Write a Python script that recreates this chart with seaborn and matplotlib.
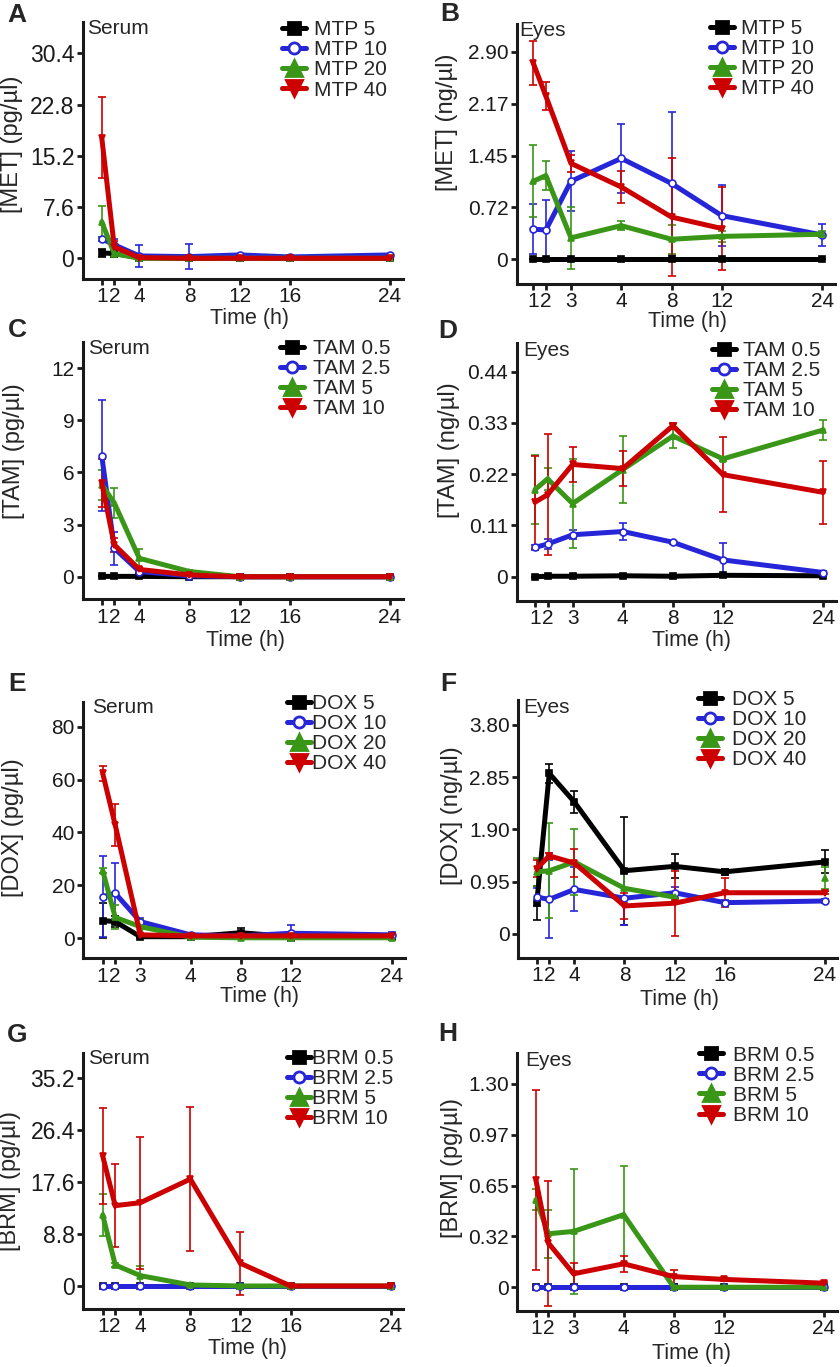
"""Drug levels in serum and eyes over 24 h (panels A-H)."""
import numpy as np
import matplotlib
matplotlib.use("Agg")
import matplotlib.pyplot as plt
from matplotlib.lines import Line2D
import seaborn as sns

nan = np.nan

# sampling slots on the x axis; two label sets are used
POS = [1, 2, 4, 8, 12, 16, 24]
HOURS_A = ["1", "2", "4", "8", "12", "16", "24"]
HOURS_B = ["1", "2", "3", "4", "8", "12", "24"]

# ---- MTP / MET
MTP_DOSES = ["MTP 5", "MTP 10", "MTP 20", "MTP 40"]
MET_SERUM = [
    [0.8, 0.7, 0.1, 0.0, 0.1, 0.0, 0.0],
    [2.9, 2.0, 0.35, 0.25, 0.5, 0.2, 0.5],
    [5.4, 0.7, 0.0, 0.0, 0.0, 0.0, 0.0],
    [17.9, 1.7, 0.1, 0.0, 0.0, 0.0, 0.0],
]
MET_SERUM_ERR = [
    [0.6, 0.3, 0.1, 0.1, 0.2, 0.1, 0.1],
    [0.3, 0.9, 1.6, 1.9, 0.2, 0.2, 0.2],
    [2.4, 0.5, 0.1, 0.1, 0.1, 0.1, 0.1],
    [6.0, 0.8, 0.2, 0.1, 0.1, 0.1, 0.1],
]
MET_EYES = [
    [0.0, 0.0, 0.0, 0.0, 0.0, 0.0, 0.0],
    [0.42, 0.41, 1.09, 1.41, 1.06, 0.61, 0.34],
    [1.09, 1.17, 0.30, 0.47, 0.28, 0.32, 0.35],
    [2.74, 2.28, 1.34, 1.01, 0.59, 0.43, nan],
]
MET_EYES_ERR = [
    [0, 0, 0, 0, 0, 0, 0],
    [0.35, 0.42, 0.42, 0.48, 1.0, 0.43, 0.16],
    [0.5, 0.2, 0.43, 0.06, 0.2, 0.08, 0.04],
    [0.31, 0.2, 0.12, 0.22, 0.83, 0.58, nan],
]

# ---- TAM
TAM_DOSES = ["TAM 0.5", "TAM 2.5", "TAM 5", "TAM 10"]
TAM_SERUM = [
    [0.02, 0.02, 0.02, 0.0, 0.0, 0.0, 0.0],
    [6.97, 1.64, 0.3, 0.05, 0.0, 0.0, 0.0],
    [5.3, 4.25, 1.06, 0.3, 0.0, 0.0, 0.0],
    [5.4, 1.84, 0.42, 0.1, 0.0, 0.0, 0.0],
]
TAM_SERUM_ERR = [
    [0, 0, 0, 0, 0, 0, 0],
    [3.2, 0.95, 0.1, 0.05, 0.05, 0.05, 0.05],
    [0.87, 0.87, 0.55, 0.1, 0.05, 0.05, 0.05],
    [1.4, 0.4, 0.15, 0.05, 0.1, 0.1, 0.1],
]
TAM_EYES = [
    [0.0, 0.001, 0.001, 0.002, 0.001, 0.003, 0.002],
    [0.063, 0.07, 0.09, 0.097, 0.074, 0.036, 0.009],
    [0.187, 0.21, 0.157, 0.23, 0.302, 0.253, 0.315],
    [0.160, 0.176, 0.241, 0.232, 0.324, 0.219, 0.181],
]
TAM_EYES_ERR = [
    [0, 0, 0, 0, 0, 0, 0],
    [0.006, 0.01, 0.01, 0.018, 0.003, 0.036, 0.004],
    [0.074, 0.024, 0.095, 0.071, 0.026, 0.005, 0.022],
    [0.10, 0.13, 0.038, 0.038, 0.007, 0.08, 0.068],
]

# ---- DOX
DOX_DOSES = ["DOX 5", "DOX 10", "DOX 20", "DOX 40"]
DOX_SERUM = [
    [6.7, 6.3, 0.6, 0.6, 2.1, 0.6, 0.6],
    [15.7, 17.0, 6.3, 1.3, 0.9, 1.9, 1.3],
    [25.6, 7.9, 4.4, 0.4, 0.2, 0.2, 0.2],
    [62.4, 42.8, 1.3, 0.9, 0.9, 0.9, 0.9],
]
DOX_SERUM_ERR = [
    [6.6, 2.0, 0.5, 0.5, 1.7, 0.5, 0.5],
    [15.3, 11.3, 1.5, 0.7, 0.5, 3.1, 1.0],
    [1.0, 4.5, 3.0, 0.3, 0.3, 0.3, 0.3],
    [2.8, 8.0, 0.8, 0.3, 0.3, 0.3, 0.3],
]
DOX_EYES = [
    [0.56, 2.92, 2.40, 1.15, 1.23, 1.13, 1.31],
    [0.67, 0.63, 0.81, 0.65, 0.75, 0.57, 0.60],
    [1.13, 1.15, 1.31, 0.83, 0.67, nan, 1.01],
    [1.19, 1.42, 1.29, 0.51, 0.56, 0.75, 0.75],
]
DOX_EYES_ERR = [
    [0.31, 0.17, 0.2, 0.98, 0.22, 0.05, 0.21],
    [0.16, 0.71, 0.4, 0.49, 0.1, 0.05, 0.03],
    [0.25, 0.86, 0.6, 0.27, 0.05, nan, 0.2],
    [0.15, 0.05, 0.25, 0.23, 0.59, 0.26, 0.03],
]

# ---- BRM
BRM_DOSES = ["BRM 0.5", "BRM 2.5", "BRM 5", "BRM 10"]
BRM_SERUM = [
    [0.0, 0.0, 0.0, 0.0, 0.0, 0.0, 0.0],
    [0.0, 0.0, 0.0, 0.0, 0.0, 0.0, 0.0],
    [12.0, 3.56, 1.75, 0.17, 0.0, 0.0, 0.0],
    [22.0, 13.6, 14.1, 18.1, 3.84, 0.0, 0.0],
]
BRM_SERUM_ERR = [
    [0, 0, 0, 0, 0, 0, 0],
    [0, 0, 0, 0, 0, 0, 0],
    [3.5, 0.4, 1.6, 0.2, 0.1, 0.1, 0.1],
    [8.2, 7.0, 11.2, 12.2, 5.3, 0.1, 0.1],
]
BRM_EYES = [
    [0.0, 0.0, 0.0, 0.0, 0.0, 0.0, 0.0],
    [0.0, 0.0, 0.0, 0.0, 0.0, 0.0, 0.0],
    [0.56, 0.342, 0.357, 0.464, 0.0, 0.0, 0.0],
    [0.684, 0.282, 0.086, 0.15, 0.068, 0.05, 0.026],
]
BRM_EYES_ERR = [
    [0, 0, 0, 0, 0, 0, 0],
    [0, 0, 0, 0, 0, 0, 0],
    [0.065, 0.155, 0.4, 0.31, 0.005, 0.005, 0.005],
    [0.577, 0.4, 0.07, 0.05, 0.045, 0.01, 0.01],
]

# y ticks per panel
YT_A = [0, 7.6, 15.2, 22.8, 30.4]
YL_A = ["0", "7.6", "15.2", "22.8", "30.4"]
YT_B = [0, 0.725, 1.45, 2.175, 2.9]
YL_B = ["0", "0.72", "1.45", "2.17", "2.90"]
YT_C = [0, 3, 6, 9, 12]
YL_C = ["0", "3", "6", "9", "12"]
YT_D = [0, 0.11, 0.22, 0.33, 0.44]
YL_D = ["0", "0.11", "0.22", "0.33", "0.44"]
YT_E = [0, 20, 40, 60, 80]
YL_E = ["0", "20", "40", "60", "80"]
YT_F = [0, 0.95, 1.9, 2.85, 3.8]
YL_F = ["0", "0.95", "1.90", "2.85", "3.80"]
YT_G = [0, 8.8, 17.6, 26.4, 35.2]
YL_G = ["0", "8.8", "17.6", "26.4", "35.2"]
YT_H = [0, 0.325, 0.65, 0.975, 1.3]
YL_H = ["0", "0.32", "0.65", "0.97", "1.30"]

PANELS = [
    ("A", "Serum", "[MET] (pg/µl)", MTP_DOSES, MET_SERUM, MET_SERUM_ERR, HOURS_A, YT_A, YL_A),
    ("B", "Eyes", "[MET] (ng/µl)", MTP_DOSES, MET_EYES, MET_EYES_ERR, HOURS_B, YT_B, YL_B),
    ("C", "Serum", "[TAM] (pg/µl)", TAM_DOSES, TAM_SERUM, TAM_SERUM_ERR, HOURS_A, YT_C, YL_C),
    ("D", "Eyes", "[TAM] (ng/µl)", TAM_DOSES, TAM_EYES, TAM_EYES_ERR, HOURS_B, YT_D, YL_D),
    ("E", "Serum", "[DOX] (pg/µl)", DOX_DOSES, DOX_SERUM, DOX_SERUM_ERR, HOURS_B, YT_E, YL_E),
    ("F", "Eyes", "[DOX] (ng/µl)", DOX_DOSES, DOX_EYES, DOX_EYES_ERR, HOURS_A, YT_F, YL_F),
    ("G", "Serum", "[BRM] (pg/µl)", BRM_DOSES, BRM_SERUM, BRM_SERUM_ERR, HOURS_A, YT_G, YL_G),
    ("H", "Eyes", "[BRM] (pg/µl)", BRM_DOSES, BRM_EYES, BRM_EYES_ERR, HOURS_B, YT_H, YL_H),
]

# layout in pixels: axes rect (L, T, R, B), xlim, ylim, letter xy, tissue xy,
# ylabel xy, xlabel xy, legend (key left, top, text gap), y tick font size
LAYOUT = {
    "A": ((82.7, 21.7, 403, 279), (-0.52, 25.04), (-3.07, 35.09), (17, 15), (87, 19), (12.5, 144), (249, 308), (282, 20.4, 8), 16.5),
    "B": ((516.7, 24, 835, 284), (-0.32, 25.01), (-0.345, 3.287), (450, 14), (519, 21), (447.5, 122), (688, 311), (710, 19.1, 7), 15),
    "C": ((82.7, 341.7, 403, 599.3), (-0.52, 25.04), (-1.30, 13.53), (17, 330), (88, 339), (14, 451), (245, 630), (280, 339.1, 9), 15),
    "D": ((516.7, 343.3, 836, 600.7), (-0.46, 25.01), (-0.0515, 0.501), (448, 331), (523, 341), (449, 450), (692, 630), (711.7, 341.1, 7), 15),
    "E": ((83.3, 701.7, 405, 958.3), (-0.54, 25.06), (-7.56, 89.4), (17, 684), (92, 698), (13, 828), (259, 986), (287, 694.1, 1), 15),
    "F": ((518.3, 700, 836.7, 957.7), (-0.47, 24.93), (-0.431, 4.254), (448, 684), (523, 698), (452, 816), (680, 989), (698, 690.1, 10), 15),
    "G": ((83.3, 1052.7, 403, 1309), (-0.55, 24.98), (-3.9, 39.5), (17, 1035), (88, 1049), (10, 1181), (247, 1338), (287, 1049.1, 1), 16.5),
    "H": ((517.3, 1053.3, 836.7, 1311), (-0.49, 25.01), (-0.152, 1.496), (448, 1034), (525, 1051), (452, 1168), (692, 1343), (699, 1045.7, 10), 15),
}

COLORS = ["#000000", "#2626d8", "#3a9617", "#cc0000"]
MARKERS = ["s", "o", "^", "v"]
OPEN = [False, True, False, False]
LEG_MS = [9, 8, 11, 11]

W, H = 840, 1367
FS = 15


def fx(px):
    return px / W


def fy(py):
    return 1 - py / H


def draw_series(ax, y, err, color, marker, hollow):
    x = np.asarray(POS, float)
    y = np.asarray(y, float)
    err = np.asarray(err, float)
    ok = ~np.isnan(y)
    ax.errorbar(x[ok], y[ok], yerr=err[ok], fmt="none", ecolor=color,
                elinewidth=1.2, capsize=3, capthick=1.2, zorder=2)
    # break the line where a value is missing
    for idx in np.split(np.arange(len(y)), np.where(~ok)[0]):
        idx = idx[ok[idx]]
        if len(idx) == 0:
            continue
        sns.lineplot(x=x[idx], y=y[idx], ax=ax, color=color, linewidth=3.6,
                     marker=marker, markersize=5,
                     markerfacecolor="white" if hollow else color,
                     markeredgecolor=color, markeredgewidth=1.2,
                     legend=False, zorder=3)


sns.set_style("ticks")
plt.rcParams["font.family"] = ["Liberation Sans", "DejaVu Sans"]

fig = plt.figure(figsize=(W / 100, H / 100), dpi=100)

for letter, tissue, ylab, doses, vals, errs, xlabels, yt, yl in PANELS:
    rect, xlim, ylim, let_xy, tis_xy, ylab_xy, xlab_xy, leg, ytfs = LAYOUT[letter]
    L, T, R, B = rect
    ax = fig.add_axes([fx(L), fy(B), (R - L) / W, (B - T) / H])

    for i in range(4):
        draw_series(ax, vals[i], errs[i], COLORS[i], MARKERS[i], OPEN[i])

    ax.set_xlim(*xlim)
    ax.set_ylim(*ylim)
    ax.set_xticks(POS)
    ax.set_xticklabels(xlabels)
    ax.set_yticks(yt)
    ax.set_yticklabels(yl)
    ax.set_xlabel("")
    ax.set_ylabel("")
    sns.despine(ax=ax)
    for s in ("left", "bottom"):
        ax.spines[s].set_linewidth(2.2)
        ax.spines[s].set_color("#1a1a1a")
    ax.tick_params(direction="out", length=4.5, width=2, labelsize=FS,
                   pad=1.5, colors="#1a1a1a", labelcolor="#1a1a1a")
    ax.tick_params(axis="y", labelsize=ytfs)

    handles = [Line2D([0], [0], color=COLORS[i], lw=3.6, marker=MARKERS[i],
                      markersize=LEG_MS[i],
                      markerfacecolor="white" if OPEN[i] else COLORS[i],
                      markeredgecolor=COLORS[i], markeredgewidth=2)
               for i in range(4)]
    kx, ky, gap = leg
    ax.legend(handles, doses, loc="upper left",
              bbox_to_anchor=((kx - L) / (R - L), 1 - (ky - T) / (B - T)),
              frameon=False, borderpad=0, borderaxespad=0,
              handlelength=1.15, handletextpad=gap * 0.72 / FS,
              labelspacing=0.05, fontsize=FS)

    fig.text(fx(let_xy[0]), fy(let_xy[1]), letter, fontsize=19,
             fontweight="bold", ha="center", va="center")
    fig.text(fx(tis_xy[0]), fy(tis_xy[1]), tissue, fontsize=FS,
             ha="left", va="top")
    fig.text(fx(ylab_xy[0]), fy(ylab_xy[1]), ylab, fontsize=17,
             rotation=90, ha="center", va="center")
    fig.text(fx(xlab_xy[0]), fy(xlab_xy[1]), "Time (h)", fontsize=15.5,
             ha="center", va="top")

fig.savefig("out.png", dpi=100)
